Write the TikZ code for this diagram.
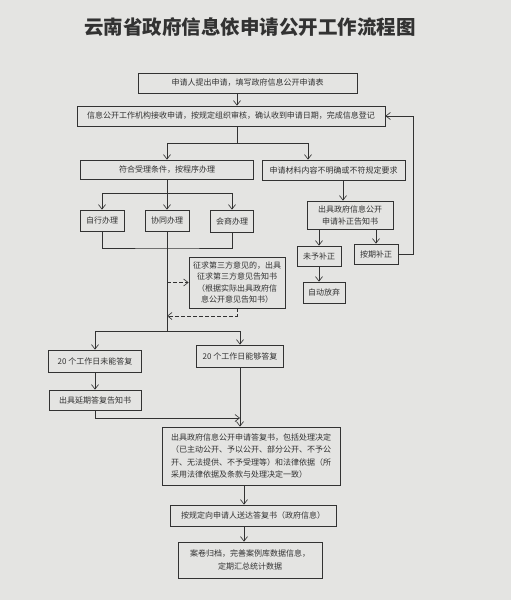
\documentclass[tikz,border=0pt]{standalone}
\usepackage{fontspec}
\setmainfont{Noto Sans CJK SC}
\usetikzlibrary{arrows.meta}
\definecolor{paper}{RGB}{228,228,226}
\definecolor{ink}{RGB}{50,50,50}
\begin{document}
\begin{tikzpicture}[x=1pt,y=-1pt,
  box/.style={draw=ink, line width=0.75pt, text=ink, inner sep=0pt, align=center, font=\fontsize{8}{12}\selectfont},
  ln/.style={draw=ink, line width=0.65pt},
  arr/.style={ln, -{Straight Barb[length=4.5pt,width=7pt]}},
  dsh/.style={arr, dash pattern=on 3.5pt off 2.5pt}]
\fill[paper] (0,0) rectangle (511,600);
\useasboundingbox (0,0) rectangle (511,600);

\node[text=ink, font=\fontsize{19.5}{19.5}\selectfont\bfseries] (title) at (250,27) {云南省政府信息依申请公开工作流程图};

\node[box, minimum width=219pt, minimum height=20pt] (b1) at (247.5,83) {申请人提出申请，填写政府信息公开申请表};
\node[box, minimum width=308pt, minimum height=20pt] (b2) at (231,116) {信息公开工作机构接收申请，按规定组织审核，确认收到申请日期，完成信息登记};
\node[box, minimum width=173pt, minimum height=19pt] (b3) at (167,169.5) {符合受理条件，按程序办理};
\node[box, minimum width=143pt, minimum height=20pt] (b4) at (333.5,170) {申请材料内容不明确或不符规定要求};

\node[box, minimum width=44pt, minimum height=21pt] (h1) at (102,220.5) {自行办理};
\node[box, minimum width=44pt, minimum height=21pt] (h2) at (167,220.5) {协同办理};
\node[box, minimum width=43pt, minimum height=22pt] (h3) at (232,221) {会商办理};

\node[box, minimum width=86pt, minimum height=28pt] (b5) at (350,215) {出具政府信息公开\\申请补正告知书};
\node[box, minimum width=44pt, minimum height=20pt] (wei) at (319,256) {未予补正};
\node[box, minimum width=44pt, minimum height=20pt] (an) at (376,254) {按期补正};
\node[box, minimum width=42pt, minimum height=21pt] (zd) at (324,292.5) {自动放弃};

\node[box, minimum width=96pt, minimum height=51pt, font=\fontsize{8}{11.5}\selectfont] (d) at (237,282.5) {征求第三方意见的，出具\\征求第三方意见告知书\\（根据实际出具政府信\\息公开意见告知书）};

\node[box, minimum width=93pt, minimum height=22pt] (n20a) at (95,361) {20 个工作日未能答复};
\node[box, minimum width=87pt, minimum height=22pt] (n20b) at (240,356) {20 个工作日能够答复};
\node[box, minimum width=92pt, minimum height=20pt] (nyq) at (95,400) {出具延期答复告知书};

\node[box, minimum width=178pt, minimum height=58pt, align=left, font=\fontsize{8}{12.5}\selectfont] (bans) at (251,456) {出具政府信息公开申请答复书，包括处理决定\\（已主动公开、予以公开、部分公开、不予公\\开、无法提供、不予受理等）和法律依据（所\\采用法律依据及条款与处理决定一致）};
\node[box, minimum width=166pt, minimum height=21pt] (bsd) at (253,515.5) {按规定向申请人送达答复书（政府信息）};
\node[box, minimum width=144pt, minimum height=36pt, font=\fontsize{8}{13}\selectfont] (bgd) at (250,560) {案卷归档，完善案例库数据信息，\\定期汇总统计数据};

% coordinates
\coordinate (j1) at (237,143);
\coordinate (x308) at (308,0);
\coordinate (x343) at (343,0);
\coordinate (j2) at (167,193);
\coordinate (j3) at (167,248);
\coordinate (j4) at (167,331);
\coordinate (dj1) at (167,282.5);
\coordinate (dj2) at (167,316);
\coordinate (j5) at (240,418);
\coordinate (x244) at (244,0);
\coordinate (fb) at (413,254);

% connectors
\draw[arr] (b1.south -| j1) -- (b2.north -| j1);
\draw[ln] (b2.south -| j1) -- (j1);
\draw[arr] (j1) -| (b3.north);
\draw[arr] (j1) -| (b4.north -| x308);

\draw[ln] (b3.south) -- (j2);
\draw[arr] (j2) -| (h1.north);
\draw[arr] (j2) -- (h2.north);
\draw[arr] (j2) -| (h3.north);
\draw[ln] (h1.south) |- (j3) -| (h3.south);
\draw[ln] (h2.south) -- (j4);

\draw[dsh] (dj1) -- (d.west);
\draw[dsh] (d.south) |- (dj2);

\draw[arr] (b4.south -| x343) -- (b5.north -| x343);
\draw[arr] (b5.south -| wei.north) -- (wei.north);
\draw[arr] (b5.south -| an.north) -- (an.north);
\draw[arr] (wei.south) -- (zd.north -| wei.south);
\draw[arr] (an.east) -- (fb) |- (b2.east);

\draw[arr] (j4) -| (n20a.north);
\draw[arr] (j4) -| (n20b.north);
\draw[arr] (n20a.south) -- (nyq.north);
\draw[arr] (nyq.south) |- (j5);
\draw[arr] (n20b.south) -- (bans.north -| n20b.south);
\draw[arr] (bans.south -| x244) -- (bsd.north -| x244);
\draw[arr] (bsd.south -| x244) -- (bgd.north -| x244);
\end{tikzpicture}
\end{document}
